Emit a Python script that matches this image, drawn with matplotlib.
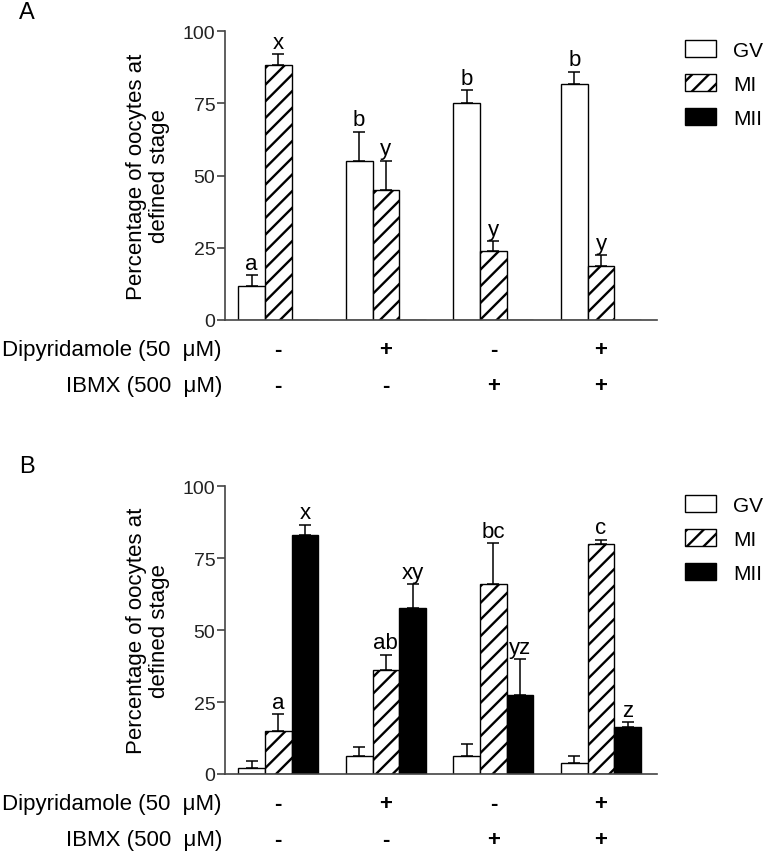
import matplotlib.pyplot as plt
from matplotlib.patches import Patch
from matplotlib.transforms import blended_transform_factory

plt.rcParams['font.family'] = ['Liberation Sans', 'DejaVu Sans']
plt.rcParams['hatch.linewidth'] = 1.7

# data (percent of oocytes, mean and upper error)
stages = ["GV", "MI", "MII"]
dipyridamole = ["-", "+", "-", "+"]
ibmx = ["-", "-", "+", "+"]

a_gv = [11.8, 55.1, 75.0, 81.7]
a_gv_err = [3.7, 10.1, 4.6, 4.3]
a_mi = [88.3, 45.1, 23.9, 18.5]
a_mi_err = [3.8, 10.0, 3.3, 3.9]
a_mii = [0, 0, 0, 0]
a_mii_err = [0, 0, 0, 0]
a_gv_lab = ["a", "b", "b", "b"]
a_mi_lab = ["x", "y", "y", "y"]
a_mii_lab = ["", "", "", ""]

b_gv = [2.1, 6.3, 6.3, 3.8]
b_gv_err = [2.3, 3.2, 4.3, 2.3]
b_mi = [15.0, 36.1, 66.0, 79.8]
b_mi_err = [5.7, 5.4, 14.3, 1.7]
b_mii = [82.9, 57.6, 27.6, 16.4]
b_mii_err = [3.7, 8.4, 12.4, 1.7]
b_gv_lab = ["", "", "", ""]
b_mi_lab = ["a", "ab", "bc", "c"]
b_mii_lab = ["x", "xy", "yz", "z"]

W, H = 766, 853
fig = plt.figure(figsize=(W / 100, H / 100), dpi=100)

fills = [("white", ""), ("white", "//"), ("black", "")]
bw = 0.248


def panel(rect, letter, series, errs, labels, zero_px, leg_top):
    ax = fig.add_axes(rect)
    for k in range(3):
        xs = [g + (k - 1) * bw for g in range(4)]
        fc, hatch = fills[k]
        ax.bar(xs, series[k], width=bw, color=fc, edgecolor="black",
               linewidth=1.0, hatch=hatch, zorder=2)
        for x, v, e, t in zip(xs, series[k], errs[k], labels[k]):
            if e > 0:
                ax.errorbar(x, v, yerr=[[0], [e]], color="black", capsize=4.5,
                            elinewidth=1.1, capthick=1.1, zorder=1)
            if t:
                ax.annotate(t, (x, v + e), xytext=(0, 1), textcoords="offset points",
                            ha="center", va="bottom", fontsize=16)
    ax.set_xlim(-0.495, 3.52)
    ax.set_ylim(0, 100)
    ax.set_yticks([0, 25, 50, 75, 100])
    ax.set_xticks([])
    for s in ["top", "right"]:
        ax.spines[s].set_visible(False)
    for s in ["left", "bottom"]:
        ax.spines[s].set_color("#444444")
        ax.spines[s].set_linewidth(1.2)
    ax.tick_params(axis="y", length=6, width=1.2, color="#444444",
                   labelsize=14, pad=1, labelcolor="#222222")

    # y label
    ymid = rect[1] + rect[3] / 2
    fig.text(148 / W, ymid, "Percentage of oocytes at\ndefined stage", rotation=90,
             ha="center", va="center", fontsize=16, multialignment="center",
             linespacing=1.1)
    fig.text(27 / W, 1 - (zero_px - 308) / H, letter, ha="center", va="center", fontsize=17)

    # treatment rows
    tr = blended_transform_factory(ax.transData, fig.transFigure)
    for row, (name, signs) in enumerate([("Dipyridamole (50  \u03bcM)", dipyridamole),
                                          ("IBMX (500  \u03bcM)", ibmx)]):
        yy = 1 - (zero_px + 30 + row * 36) / H
        fig.text(222 / W, yy, name, ha="right", va="center", fontsize=16)
        for g, s in enumerate(signs):
            ax.text(g, yy, s, transform=tr, ha="center", va="center",
                    fontsize=16, fontweight="bold")

    handles = [Patch(facecolor=fc, edgecolor="black", hatch=h, linewidth=1.0)
               for fc, h in fills]
    fig.legend(handles, stages, loc="upper left",
               bbox_to_anchor=(685 / W, 1 - leg_top / H), frameon=False,
               fontsize=15, handlelength=1.5, handleheight=0.85,
               handletextpad=0.8, labelspacing=0.7, borderpad=0,
               borderaxespad=0)
    return ax


panel([225 / W, 1 - 320.7 / H, 432 / W, 288.4 / H], "A",
      [a_gv, a_mi, a_mii], [a_gv_err, a_mi_err, a_mii_err],
      [a_gv_lab, a_mi_lab, a_mii_lab], 320.7, 41)
panel([225 / W, 1 - 775 / H, 432 / W, 287.7 / H], "B",
      [b_gv, b_mi, b_mii], [b_gv_err, b_mi_err, b_mii_err],
      [b_gv_lab, b_mi_lab, b_mii_lab], 775, 496)

fig.savefig("out.png", dpi=100)
